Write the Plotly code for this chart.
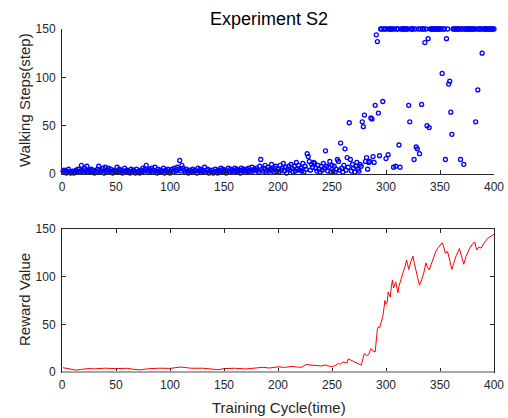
import plotly.graph_objects as go

W, H = 508, 418

# ---------------- data ----------------
cycles = list(range(1, 401))

walking_steps = [
    3, 4, 2, 1, 3, 5, 2, 1, 2, 3,
    1, 2, 4, 3, 5, 2, 3, 9, 4, 2,
    6, 3, 8, 2, 4, 3, 5, 2, 4, 1,
    3, 2, 5, 8, 4, 2, 3, 6, 1, 7,
    2, 4, 6, 3, 5, 2, 1, 4, 3, 2,
    7, 3, 5, 2, 4, 1, 3, 6, 2, 4,
    2, 3, 1, 5, 2, 4, 3, 1, 5, 2,
    3, 1, 4, 2, 6, 3, 5, 9, 4, 2,
    5, 3, 6, 2, 4, 7, 3, 1, 5, 2,
    4, 2, 3, 6, 1, 4, 2, 5, 3, 1,
    3, 5, 2, 6, 4, 3, 7, 5, 14, 3,
    9, 6, 4, 2, 5, 3, 1, 4, 2, 3,
    5, 2, 4, 3, 1, 6, 3, 5, 2, 4,
    3, 7, 2, 4, 5, 1, 3, 2, 4, 1,
    2, 5, 3, 1, 4, 2, 6, 3, 5, 2,
    4, 1, 3, 6, 2, 5, 3, 4, 2, 6,
    3, 5, 2, 4, 1, 6, 3, 5, 4, 2,
    5, 3, 6, 2, 4, 7, 3, 5, 4, 6,
    4, 2, 8, 15, 5, 3, 6, 9, 2, 4,
    7, 3, 5, 10, 4, 2, 6, 8, 3, 5,
    2, 9, 4, 6, 11, 3, 7, 1, 5, 8,
    4, 10, 6, 2, 8, 3, 12, 5, 9, 4,
    6, 3, 11, 2, 8, 5, 21, 18, 13, 4,
    10, 7, 12, 11, 6, 3, 9, 5, 2, 8,
    4, 11, 6, 24, 8, 3, 7, 13, 2, 9,
    3, 8, 2, 5, 15, 13, 4, 32, 6, 2,
    9, 26, 4, 17, 7, 53, 15, 3, 10, 6,
    2, 8, 12, 5, 3, 10, 8, 54, 49, 61,
    13, 17, 5, 12, 13, 58, 57, 18, 12, 71,
    144, 137, 63, 19, 150, 150, 75, 150, 150, 16,
    150, 20, 150, 150, 150, 150, 7, 150, 8, 150,
    150, 30, 7, 150, 150, 150, 150, 150, 150, 150,
    71, 54, 150, 150, 150, 15, 150, 28, 26, 150,
    21, 150, 72, 150, 150, 136, 150, 50, 140, 48,
    150, 150, 150, 150, 150, 150, 150, 150, 150, 150,
    150, 104, 150, 150, 15, 140, 150, 93, 96, 64,
    41, 150, 150, 150, 150, 150, 150, 150, 15, 150,
    150, 10, 150, 150, 150, 150, 150, 150, 150, 150,
    150, 150, 54, 150, 87, 150, 150, 150, 125, 150,
    150, 150, 150, 150, 150, 150, 150, 150, 150, 150,
]

reward_cycles = [
    1, 5, 10, 13, 18, 25, 30, 40, 50, 60, 65, 72, 80, 90, 100, 105, 110, 115,
    120, 130, 140, 145, 150, 160, 170, 175, 180, 186, 192, 200, 206, 212, 218,
    222, 226, 230, 236, 240, 244, 247, 250, 253, 256, 258, 260, 262, 264, 265,
    268, 272, 277, 280, 282, 284, 286, 288, 290, 292, 293, 294, 296, 297, 298,
    299, 300, 301, 302, 303, 304, 305, 306, 307, 308, 309, 310, 311, 312, 314,
    316, 318, 319, 320, 321, 323, 325, 326, 327, 329, 331, 333, 335, 337, 338,
    340, 342, 344, 346, 348, 350, 352, 353, 355, 357, 359, 361, 363, 365, 368,
    370, 372, 374, 376, 378, 380, 382, 384, 386, 388, 390, 392, 394, 396, 398,
    400,
]
reward_values = [
    4.5, 3.8, 2.6, 2.0, 2.8, 3.6, 3.3, 4.0, 3.5, 3.9, 3.0, 2.2, 3.4, 4.0, 3.8,
    4.2, 5.2, 4.6, 3.9, 4.0, 2.8, 2.4, 3.6, 3.9, 3.2, 3.9, 4.3, 4.9, 4.2, 5.4,
    4.8, 5.8, 5.2, 5.0, 7.8, 7.4, 7.0, 6.3, 7.3, 6.6, 5.4, 6.8, 9.0, 8.2, 10.6,
    10.0, 9.6, 13.8, 12.0, 10.2, 7.2, 19.5, 17.0, 18.5, 24.5, 22.0, 21.0, 45.0,
    47.5, 46.0, 55.0, 58.0, 66.0, 75.0, 71.0, 72.0, 84.0, 80.0, 78.5, 90.0,
    96.5, 88.0, 93.0, 94.5, 89.0, 83.0, 90.0, 99.0, 105.0, 112.0, 117.5, 113.0,
    107.5, 116.0, 121.5, 115.0, 110.0, 100.0, 91.0, 96.5, 104.0, 114.5, 111.0,
    107.0, 114.0, 119.0, 126.0, 130.0, 133.0, 135.5, 133.0, 124.5, 126.5,
    116.0, 107.5, 115.0, 122.0, 129.5, 121.0, 113.0, 121.0, 126.0, 131.0,
    134.0, 136.5, 128.0, 131.0, 130.0, 134.0, 137.0, 140.0, 141.5, 143.0,
    144.5,
]

x_ticks = [0, 50, 100, 150, 200, 250, 300, 350, 400]
y_ticks = [0, 50, 100, 150]

title_text = "Experiment S2"
y1_title = "Walking Steps(step)"
y2_title = "Reward Value"
x2_title = "Training Cycle(time)"

# ---------------- layout geometry (pixels) ----------------
AX_L, AX_R = 62, 494
TOP_T, TOP_B = 29, 174
BOT_T, BOT_B = 229, 372

def px(x):
    return x / W

def py(y):
    return 1 - y / H

FONT = "Liberation Sans, Arial, Helvetica, sans-serif"
AXC = "#262626"
TXT = "#262626"

fig = go.Figure()

fig.add_trace(go.Scatter(
    x=cycles, y=walking_steps, mode="markers",
    marker=dict(symbol="circle-open", size=4, color="#0000ff",
                line=dict(width=1.3, color="#0000ff")),
    cliponaxis=False, xaxis="x", yaxis="y", showlegend=False,
))

fig.add_trace(go.Scatter(
    x=reward_cycles, y=reward_values, mode="lines",
    line=dict(color="#ff0000", width=1),
    xaxis="x2", yaxis="y2", showlegend=False,
))

common_x = dict(
    range=[0, 400], tickvals=x_ticks, ticks="inside", ticklen=4,
    tickcolor=AXC, showline=True, linecolor=AXC, linewidth=1,
    showgrid=False, zeroline=False, automargin=False,
    tickfont=dict(family=FONT, size=12, color=TXT),
    domain=[px(AX_L), px(AX_R)],
)
common_y = dict(
    range=[0, 150], tickvals=y_ticks, ticks="inside", ticklen=4,
    tickcolor=AXC, showline=True, linecolor=AXC, linewidth=1,
    showgrid=False, zeroline=False, automargin=False,
    tickfont=dict(family=FONT, size=12, color=TXT),
)

fig.update_layout(
    width=W, height=H,
    margin=dict(l=0, r=0, t=0, b=0, autoexpand=False),
    paper_bgcolor="white", plot_bgcolor="white",
    xaxis=dict(**common_x, anchor="y", ticklabelstandoff=2),
    yaxis=dict(**common_y, anchor="x", domain=[py(TOP_B), py(TOP_T)],
               ticklabelstandoff=3),
    xaxis2=dict(**common_x, anchor="y2", mirror="allticks",
                ticklabelstandoff=2),
    yaxis2=dict(**common_y, anchor="x2", domain=[py(BOT_B), py(BOT_T)],
                mirror="allticks", ticklabelstandoff=3),
    shapes=[
        dict(type="line", xref="x2 domain", yref="y2 domain",
             x0=0, x1=1, y0=0, y1=0,
             line=dict(color="#a6a6a6", width=2)),
    ],
    annotations=[
        dict(text=title_text, x=px(269), y=py(19), xref="paper", yref="paper",
             showarrow=False, xanchor="center", yanchor="middle",
             font=dict(family=FONT, size=18, color="#000000")),
        dict(text=y1_title, x=px(24), y=py(100), xref="paper", yref="paper",
             showarrow=False, textangle=-90, xanchor="center", yanchor="middle",
             font=dict(family=FONT, size=15, color=TXT)),
        dict(text=y2_title, x=px(24), y=py(300), xref="paper", yref="paper",
             showarrow=False, textangle=-90, xanchor="center", yanchor="middle",
             font=dict(family=FONT, size=15, color=TXT)),
        dict(text=x2_title, x=px(278.5), y=py(407), xref="paper", yref="paper",
             showarrow=False, xanchor="center", yanchor="middle",
             font=dict(family=FONT, size=15, color=TXT)),
    ],
)

fig.write_html(
    "out.html",
    config={"displayModeBar": False},
    post_script="document.body.style.margin='0';document.body.style.overflow='hidden';",
)
